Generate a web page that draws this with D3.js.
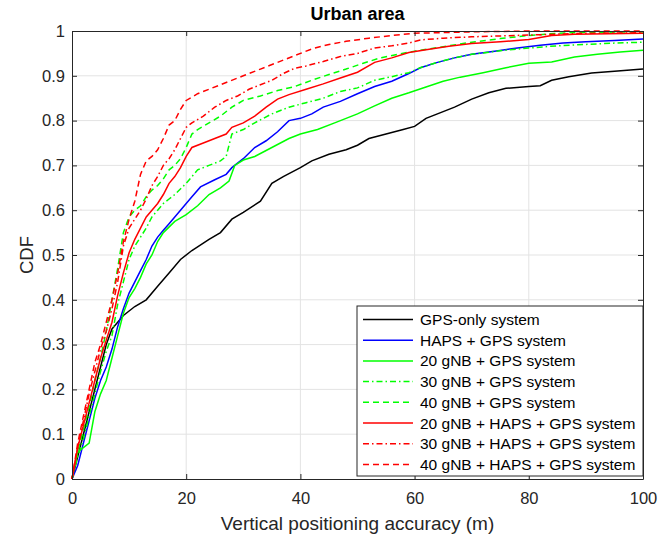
<!DOCTYPE html>
<html>
<head>
<meta charset="utf-8">
<script src="https://cdn.jsdelivr.net/npm/d3@7"></script>
<style>
  body { margin: 0; background: #fff; }
  text { font-family: "Liberation Sans", Arial, sans-serif; }
</style>
</head>
<body>
<div id="chart"></div>
<script>
// Data: [accuracy (m), CDF]
const gpsOnly = [[0,0],[1,0.05],[2,0.10],[3,0.15],[4,0.20],[5,0.25],[6,0.30],[7,0.335],[8,0.35],[9,0.365],[10,0.375],[11,0.385],[13,0.40],[15,0.43],[17,0.46],[19,0.49],[21,0.51],[24,0.535],[26,0.55],[28,0.58],[30,0.595],[33,0.62],[35,0.66],[37,0.675],[40,0.695],[42,0.71],[45,0.725],[48,0.735],[50,0.745],[52,0.76],[55,0.77],[58,0.78],[60,0.787],[62,0.805],[64,0.815],[67,0.83],[70,0.848],[73,0.862],[76,0.872],[80,0.876],[82,0.878],[84,0.89],[87,0.898],[91,0.906],[95,0.91],[100,0.915]];
const hapsGps = [[0,0],[1,0.03],[2,0.08],[3,0.13],[4,0.18],[5,0.22],[6,0.25],[7,0.29],[8,0.34],[9,0.38],[10,0.415],[11,0.44],[12,0.465],[13,0.49],[14,0.52],[15,0.54],[16,0.555],[17,0.57],[19,0.60],[21,0.63],[22.5,0.652],[25,0.668],[27,0.68],[28,0.695],[30,0.715],[32,0.74],[34,0.755],[36,0.775],[38,0.80],[40,0.805],[42,0.815],[44,0.83],[47,0.843],[50,0.86],[53,0.876],[56,0.888],[59,0.905],[61,0.918],[64,0.93],[67,0.94],[70,0.948],[74,0.955],[78,0.962],[82,0.968],[86,0.973],[90,0.976],[95,0.979],[100,0.982]];
const gnb20Gps = [[0,0],[1,0.06],[3,0.08],[4,0.15],[5,0.19],[6,0.22],[7,0.27],[8,0.32],[9,0.37],[10,0.405],[11,0.425],[12,0.45],[13,0.48],[14,0.50],[15,0.53],[16,0.55],[18,0.575],[20,0.59],[22,0.61],[24,0.635],[26,0.65],[27.5,0.665],[28.5,0.70],[30,0.712],[32,0.72],[35,0.74],[38,0.76],[40,0.77],[43,0.78],[46,0.795],[50,0.815],[53,0.833],[56,0.85],[59,0.862],[62,0.875],[65,0.888],[68,0.897],[72,0.907],[76,0.918],[80,0.928],[84,0.931],[88,0.942],[92,0.948],[96,0.953],[100,0.957]];
const gnb30Gps = [[0,0],[1,0.05],[2,0.09],[3,0.14],[4,0.19],[5,0.24],[6,0.285],[7,0.32],[8,0.39],[9,0.44],[10,0.49],[11,0.52],[12,0.54],[13,0.56],[14,0.585],[15,0.60],[16,0.615],[17,0.625],[18,0.635],[20,0.66],[22,0.69],[24,0.70],[26,0.71],[27,0.72],[28,0.77],[30,0.78],[32,0.795],[35,0.815],[38,0.83],[41,0.84],[44,0.85],[47,0.865],[50,0.873],[53,0.89],[56,0.898],[59,0.907],[61,0.918],[64,0.93],[67,0.94],[70,0.948],[75,0.956],[80,0.962],[85,0.967],[90,0.97],[95,0.973],[100,0.975]];
const gnb40Gps = [[0,0],[1,0.06],[2,0.11],[3,0.16],[4,0.22],[5,0.27],[6,0.33],[7,0.40],[8,0.47],[9,0.55],[10,0.585],[11,0.60],[12,0.61],[13,0.63],[14,0.645],[15,0.655],[16,0.67],[17,0.69],[18,0.70],[19,0.715],[20,0.74],[21,0.77],[22,0.78],[24,0.795],[26,0.81],[28,0.83],[30,0.845],[33,0.855],[36,0.867],[39,0.876],[42,0.89],[45,0.903],[48,0.915],[51,0.928],[54,0.94],[57,0.948],[60,0.955],[65,0.965],[70,0.975],[75,0.983],[80,0.99],[85,0.995],[90,0.997],[100,0.998]];
const gnb20HapsGps = [[0,0],[1,0.07],[2,0.12],[3,0.17],[4,0.22],[5,0.27],[6,0.31],[7,0.35],[8,0.41],[9,0.46],[10,0.505],[11,0.535],[12,0.56],[13,0.585],[14,0.60],[15,0.615],[16,0.635],[17,0.66],[18,0.675],[19,0.695],[20,0.72],[21,0.74],[23,0.75],[25,0.76],[27,0.77],[28,0.785],[30,0.795],[32,0.81],[34,0.83],[36,0.848],[38,0.858],[41,0.87],[44,0.882],[47,0.895],[50,0.908],[53,0.93],[56,0.94],[59,0.952],[62,0.958],[66,0.966],[70,0.972],[75,0.976],[80,0.981],[84,0.99],[88,0.993],[100,0.995]];
const gnb30HapsGps = [[0,0],[1,0.07],[2,0.13],[3,0.19],[4,0.24],[5,0.29],[6,0.33],[7,0.38],[8,0.44],[9,0.52],[10,0.56],[11,0.58],[12,0.60],[13,0.625],[14,0.655],[15,0.675],[16,0.70],[17,0.715],[18,0.735],[19,0.76],[20,0.785],[21,0.795],[23,0.81],[25,0.83],[27,0.845],[29,0.855],[31,0.87],[33,0.88],[35,0.89],[37,0.905],[39,0.917],[41,0.922],[44,0.932],[47,0.943],[50,0.95],[53,0.962],[56,0.967],[59,0.973],[61,0.98],[65,0.984],[70,0.987],[80,0.991],[90,0.995],[100,0.996]];
const gnb40HapsGps = [[0,0],[1,0.08],[2,0.14],[3,0.20],[4,0.26],[5,0.30],[6,0.35],[7,0.40],[8,0.46],[9,0.53],[10,0.58],[11,0.62],[12,0.68],[13,0.71],[14,0.72],[15,0.735],[16,0.76],[17,0.79],[18,0.80],[19,0.825],[20,0.845],[22,0.86],[24,0.87],[27,0.885],[30,0.9],[33,0.915],[36,0.93],[39,0.945],[42,0.96],[45,0.97],[48,0.977],[52,0.984],[56,0.99],[60,0.995],[70,0.998],[80,1.0],[100,1.0]];

const seriesNames = [
  "GPS-only system",
  "HAPS + GPS system",
  "20 gNB + GPS system",
  "30 gNB + GPS system",
  "40 gNB + GPS system",
  "20 gNB + HAPS + GPS system",
  "30 gNB + HAPS + GPS system",
  "40 gNB + HAPS + GPS system"
];
const seriesData = [gpsOnly, hapsGps, gnb20Gps, gnb30Gps, gnb40Gps, gnb20HapsGps, gnb30HapsGps, gnb40HapsGps];
const xTicks = [0, 20, 40, 60, 80, 100];
const yTicks = [0, 0.1, 0.2, 0.3, 0.4, 0.5, 0.6, 0.7, 0.8, 0.9, 1];

// styles
const colors = ["#000000", "#0000ff", "#00ff00", "#00ff00", "#00ff00", "#ff0000", "#ff0000", "#ff0000"];
const dashes = [null, null, null, "6,3,1.5,3", "6,4", null, "6,3,1.5,3", "6,4"];

const W = 672, H = 540;
const margin = { top: 31, right: 29, bottom: 61, left: 72 };
const width = W - margin.left - margin.right;
const height = H - margin.top - margin.bottom;

const svg = d3.select("#chart").append("svg")
  .attr("width", W).attr("height", H);

const g = svg.append("g").attr("transform", `translate(${margin.left},${margin.top})`);

const x = d3.scaleLinear().domain([0, 100]).range([0, width]);
const y = d3.scaleLinear().domain([0, 1]).range([height, 0]);

// grid
g.append("g").selectAll("line").data(xTicks.slice(1, -1)).enter().append("line")
  .attr("x1", d => x(d)).attr("x2", d => x(d))
  .attr("y1", 0).attr("y2", height)
  .attr("stroke", "#e3e3e3").attr("stroke-width", 1);
g.append("g").selectAll("line").data(yTicks.slice(1, -1)).enter().append("line")
  .attr("x1", 0).attr("x2", width)
  .attr("y1", d => y(d)).attr("y2", d => y(d))
  .attr("stroke", "#e3e3e3").attr("stroke-width", 1);

// curves
const line = d3.line().x(d => x(d[0])).y(d => y(d[1]));
const plot = g.append("g");
seriesData.forEach((s, i) => {
  plot.append("path")
    .datum(s)
    .attr("fill", "none")
    .attr("stroke", colors[i])
    .attr("stroke-width", 1.5)
    .attr("stroke-dasharray", dashes[i])
    .attr("d", line);
});

// axes (MATLAB-style box with inward ticks)
const axColor = "#262626";
g.append("g").attr("transform", `translate(0,${height})`)
  .call(d3.axisBottom(x).tickValues(xTicks).tickSizeInner(-5).tickSizeOuter(0).tickPadding(13));
g.append("g")
  .call(d3.axisLeft(y).tickValues(yTicks).tickFormat(d3.format("")).tickSizeInner(-5).tickSizeOuter(0).tickPadding(7));
g.append("g").attr("transform", `translate(${width},0)`)
  .call(d3.axisRight(y).tickValues(yTicks).tickFormat("").tickSizeInner(-5).tickSizeOuter(0));
g.append("g")
  .call(d3.axisTop(x).tickValues(xTicks).tickFormat("").tickSizeInner(-5).tickSizeOuter(0));
g.selectAll(".domain").attr("stroke", axColor);
g.selectAll(".tick line").attr("stroke", axColor);
g.selectAll(".tick text").attr("fill", axColor).style("font-size", "16.5px")
  .style("font-family", "'Liberation Sans', Arial, sans-serif");

// title and labels
svg.append("text")
  .attr("x", margin.left + width / 2).attr("y", 20)
  .attr("text-anchor", "middle")
  .style("font-size", "18px").style("font-weight", "bold").attr("fill", "#000")
  .text("Urban area");

svg.append("text")
  .attr("x", margin.left + width / 2).attr("y", 530)
  .attr("text-anchor", "middle")
  .style("font-size", "19px").attr("fill", axColor)
  .text("Vertical positioning accuracy (m)");

svg.append("text")
  .attr("transform", `translate(33,${margin.top + height / 2}) rotate(-90)`)
  .attr("text-anchor", "middle")
  .style("font-size", "18.5px").attr("fill", axColor)
  .text("CDF");

// legend
const lx = 357, ly = 306, lw = 286, lh = 170;
const legend = svg.append("g");
legend.append("rect")
  .attr("x", lx).attr("y", ly).attr("width", lw).attr("height", lh)
  .attr("fill", "#fff").attr("stroke", axColor).attr("stroke-width", 1);

const items = legend.selectAll(".legend-item")
  .data(seriesNames)
  .enter().append("g")
  .attr("class", "legend-item")
  .attr("transform", (d, i) => `translate(${lx}, ${ly + 13.5 + i * 20.7})`);

items.append("line")
  .attr("x1", 6).attr("x2", 56).attr("y1", 0).attr("y2", 0)
  .attr("stroke", (d, i) => colors[i])
  .attr("stroke-width", 1.5)
  .attr("stroke-dasharray", (d, i) => dashes[i]);

items.append("text")
  .attr("x", 63).attr("y", 5.5)
  .style("font-size", "15.5px").attr("fill", "#000")
  .text(d => d);
</script>
</body>
</html>
